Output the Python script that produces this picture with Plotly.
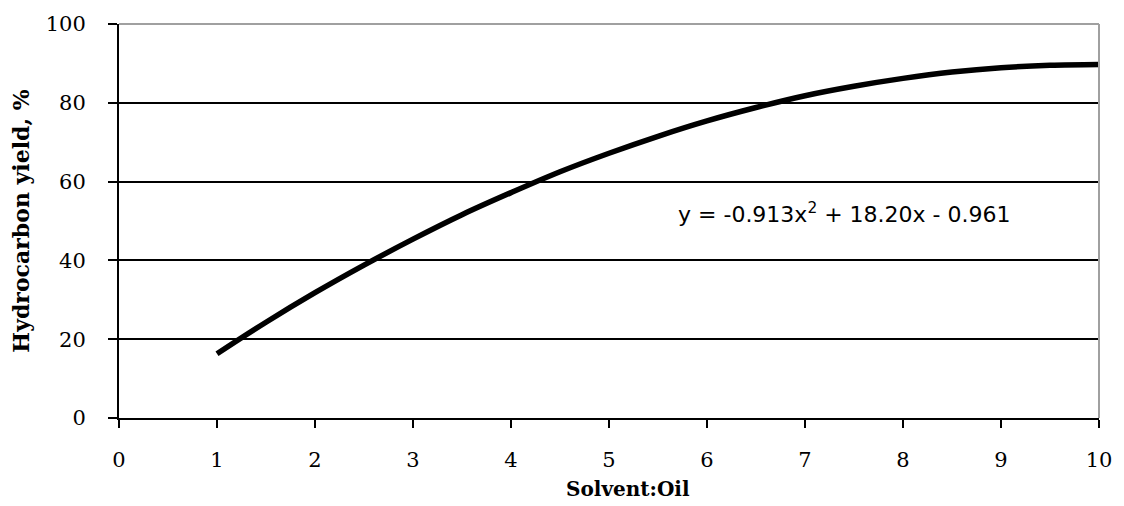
import plotly.graph_objects as go

x_vals = [1, 1.5, 2, 2.5, 3, 3.5, 4, 4.5, 5, 5.5, 6, 6.5, 7, 7.5, 8, 8.5, 9, 9.5, 10]
y_vals = [16.3, 24.3, 31.8, 38.8, 45.4, 51.6, 57.2, 62.5, 67.2, 71.5, 75.4, 78.8, 81.8, 84.2, 86.2, 87.8, 88.9, 89.5, 89.7]
x_ticks = [0, 1, 2, 3, 4, 5, 6, 7, 8, 9, 10]
y_ticks = [0, 20, 40, 60, 80, 100]
equation = "y = -0.913x<sup>2</sup> + 18.20x - 0.961"

fig = go.Figure()
fig.add_trace(go.Scatter(
    x=x_vals, y=y_vals, mode="lines",
    line=dict(color="black", width=5.5, shape="spline"),
    showlegend=False, hoverinfo="skip",
))

fig.add_annotation(
    x=7.40, y=52, xref="x", yref="y", text=equation, showarrow=False,
    font=dict(family="DejaVu Sans", size=22, color="black"),
)

# x-axis title (slightly right of centre, as in the reference)
fig.add_annotation(
    x=0.519, y=-0.181, xref="paper", yref="paper", text="<b>Solvent:Oil</b>",
    showarrow=False, yanchor="middle",
    font=dict(family="DejaVu Serif", size=20, color="black"),
)

# gray top and right border of plot area
fig.add_shape(type="line", xref="paper", yref="paper", x0=0, x1=1, y0=1, y1=1,
              line=dict(color="#A0A0A0", width=2), layer="above")
fig.add_shape(type="line", xref="paper", yref="paper", x0=1, x1=1, y0=0, y1=1,
              line=dict(color="#A0A0A0", width=2), layer="above")

fig.update_layout(
    width=1124, height=506,
    margin=dict(l=119, r=17, t=21, b=88),
    paper_bgcolor="white", plot_bgcolor="white",
    font=dict(family="DejaVu Serif", size=21, color="black"),
    xaxis=dict(
        range=[0, 10], tickvals=x_ticks, ticktext=[str(v) for v in x_ticks],
        showgrid=False, zeroline=False,
        showline=True, linecolor="black", linewidth=2,
        ticks="outside", ticklen=8, tickwidth=2, tickcolor="black",
        ticklabelstandoff=14, ticklabeloverflow="allow",
        tickfont=dict(family="DejaVu Serif", size=21),
    ),
    yaxis=dict(
        range=[0, 100], tickvals=y_ticks, ticktext=[str(v) for v in y_ticks],
        showgrid=True, gridcolor="black", gridwidth=2, zeroline=False,
        showline=True, linecolor="black", linewidth=2,
        ticks="outside", ticklen=9, tickwidth=2, tickcolor="black",
        ticklabelstandoff=18, ticklabeloverflow="allow",
        tickfont=dict(family="DejaVu Serif", size=21),
        title=dict(text="<b>Hydrocarbon yield, %</b>", font=dict(family="DejaVu Serif", size=22), standoff=10),
    ),
)

fig.write_html("out.html")
